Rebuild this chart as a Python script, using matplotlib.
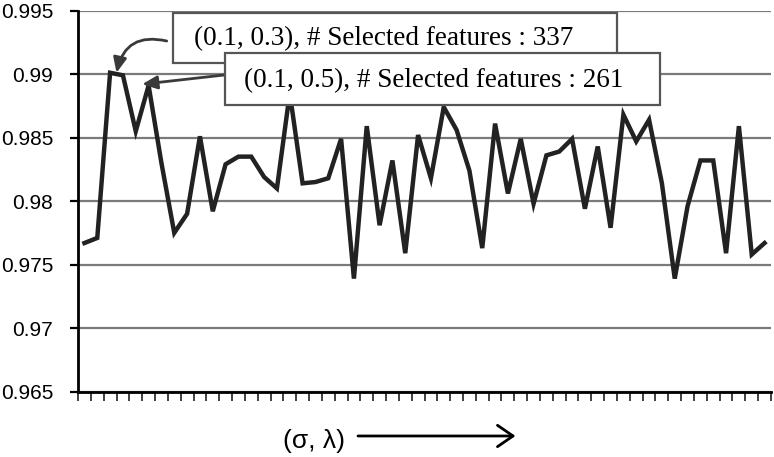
"""Accuracy vs (sigma, lambda) grid - line chart with two annotated peaks."""

import matplotlib
matplotlib.use("Agg")
import matplotlib.pyplot as plt
from matplotlib.patches import Rectangle, FancyArrowPatch
import numpy as np


# Accuracy per (sigma, lambda) pair
accuracy = [
    0.9767, 0.9771, 0.9901, 0.9899, 0.9855, 0.9891, 0.9830, 0.9775, 0.9790,
    0.9851, 0.9792, 0.9829, 0.9835, 0.9835, 0.9819, 0.9810, 0.9885, 0.9814,
    0.9815, 0.9818, 0.9849, 0.9739, 0.9859, 0.9781, 0.9832, 0.9759, 0.9852,
    0.9818, 0.9874, 0.9856, 0.9824, 0.9763, 0.9861, 0.9806, 0.9849, 0.9798,
    0.9836, 0.9839, 0.9849, 0.9794, 0.9843, 0.9779, 0.9868, 0.9847, 0.9864,
    0.9814, 0.9739, 0.9796, 0.9832, 0.9832, 0.9759, 0.9859, 0.9758, 0.9767,
]
y_ticks = [0.965, 0.97, 0.975, 0.98, 0.985, 0.99, 0.995]
y_tick_labels = ["0.965", "0.97", "0.975", "0.98", "0.985", "0.99", "0.995"]

note_337 = "(0.1, 0.3), # Selected features : 337"
note_261 = "(0.1, 0.5), # Selected features : 261"
x_label = "(\u03c3, \u03bb)"

SANS = ["Liberation Sans", "DejaVu Sans"]
SERIF = ["Liberation Serif", "DejaVu Serif"]


def main():
    fig = plt.figure(figsize=(7.74, 4.57), dpi=100)
    ax = fig.add_axes([0.1008, 0.1429, 0.8953, 0.8341])

    x = np.arange(len(accuracy))
    ax.plot(x, accuracy, color="#222222", linewidth=3.2, zorder=3,
            solid_joinstyle="miter")

    ax.set_xlim(-0.5, len(accuracy) - 0.5)
    ax.set_ylim(y_ticks[0], y_ticks[-1])

    # y axis
    ax.set_yticks(y_ticks)
    ax.set_yticklabels(y_tick_labels, family=SANS, fontsize=15)
    ax.tick_params(axis="y", direction="out", length=6, width=1.6,
                   pad=12, color="black")
    # x axis: category boundary ticks, no labels
    ax.set_xticks(np.arange(len(accuracy) + 1) - 0.5)
    ax.set_xticklabels([])
    ax.tick_params(axis="x", direction="out", length=6.5, width=1.3,
                   color="#333333")

    ax.grid(axis="y", color="#7a7a7a", linewidth=1.6)
    ax.set_axisbelow(True)
    for side in ("top", "right"):
        ax.spines[side].set_visible(False)
    for side in ("left", "bottom"):
        ax.spines[side].set_linewidth(2.0)
        ax.spines[side].set_color("black")
        ax.spines[side].set_zorder(4)

    # annotation boxes
    box_kw = dict(transform=ax.transAxes, facecolor="white",
                  edgecolor="#555555", linewidth=1.6, clip_on=False)
    ax.add_patch(Rectangle((0.1367, 0.8615), 0.6406, 0.1327, zorder=5, **box_kw))
    ax.text(0.4407, 0.925, note_337, transform=ax.transAxes, ha="center",
            va="center", family=SERIF, fontsize=19.5, zorder=6)
    ax.add_patch(Rectangle((0.2121, 0.7521), 0.6277, 0.1356, zorder=7, **box_kw))
    ax.text(0.5137, 0.815, note_261, transform=ax.transAxes, ha="center",
            va="center", family=SERIF, fontsize=19.5, zorder=8)

    arrow_kw = dict(arrowstyle="-|>,head_length=0.9,head_width=0.4",
                    color="#3a3a3a", linewidth=2.0, shrinkA=0, shrinkB=0)
    ax.annotate("", xy=(2.5, 0.9901), xytext=(0.128, 0.920),
                textcoords="axes fraction", zorder=5,
                arrowprops=dict(connectionstyle="arc3,rad=0.5", **arrow_kw))
    ax.annotate("", xy=(4.5, 0.9892), xytext=(0.212, 0.831),
                textcoords="axes fraction", zorder=5,
                arrowprops=dict(connectionstyle="arc3,rad=0", **arrow_kw))

    # x label with the long arrow
    fig.text(0.4057, 0.036, x_label, ha="center", va="center",
             family=SANS, fontsize=19)
    fig.add_artist(FancyArrowPatch(
        (0.4625, 0.046), (0.666, 0.046), transform=fig.transFigure,
        arrowstyle="->,head_length=0.8,head_width=0.55", mutation_scale=14,
        color="black", linewidth=2.0, shrinkA=0, shrinkB=0))

    fig.savefig("out.png", dpi=100)
    plt.close(fig)


if __name__ == "__main__":
    main()
